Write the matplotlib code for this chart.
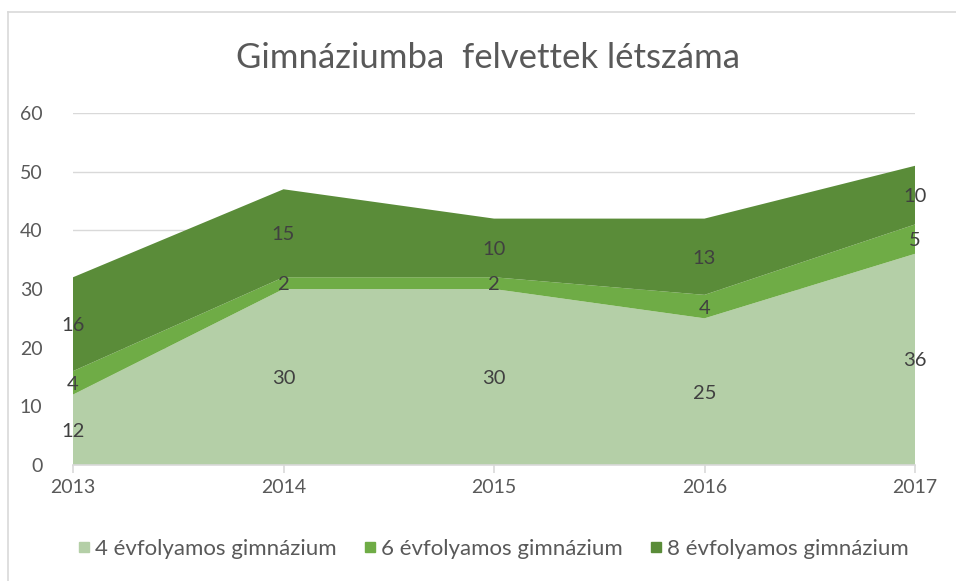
import numpy as np
import matplotlib.pyplot as plt
from matplotlib.lines import Line2D

# Adatok
evek = ["2013", "2014", "2015", "2016", "2017"]
negy_evf = [12, 30, 30, 25, 36]
hat_evf = [4, 2, 2, 4, 5]
nyolc_evf = [16, 15, 10, 13, 10]
sorozat_nevek = ["4 évfolyamos gimnázium", "6 évfolyamos gimnázium", "8 évfolyamos gimnázium"]
szinek = ["#B4CFA7", "#6FAC46", "#5A8C39"]

plt.rcParams["font.family"] = ["Lato", "DejaVu Sans"]
szoveg_szin = "#595959"

fig = plt.figure(figsize=(9.56, 5.81), dpi=100)
ax = fig.add_axes([73 / 956, 1 - 465 / 581, (915 - 73) / 956, (465 - 113) / 581])

x = np.arange(len(evek))
sorozatok = [negy_evf, hat_evf, nyolc_evf]
ax.stackplot(x, *sorozatok, colors=szinek, labels=sorozat_nevek, zorder=2)

# Adatcímkék a rétegek közepén
alap = np.zeros(len(evek))
for s in sorozatok:
    s = np.array(s)
    for xi, b, v in zip(x, alap, s):
        ax.text(xi, b + v / 2, str(v), ha="center", va="center_baseline",
                fontsize=14.5, color="#404040", zorder=3)
    alap = alap + s

ax.set_xlim(0, len(evek) - 1)
ax.set_ylim(0, 60)
ax.set_yticks(range(0, 61, 10))
ax.set_xticks(x)
ax.set_xticklabels(evek)
ax.grid(axis="y", color="#D9D9D9", lw=1, zorder=0)
ax.set_axisbelow(True)
for sp in ["top", "right", "left"]:
    ax.spines[sp].set_visible(False)
ax.spines["bottom"].set_color("#D9D9D9")
ax.spines["bottom"].set_linewidth(1.2)
ax.tick_params(axis="y", length=0, pad=22, labelsize=14, labelcolor=szoveg_szin)
ax.tick_params(axis="x", length=6, color="#D9D9D9", width=1.2, pad=4,
               labelsize=14, labelcolor=szoveg_szin)

fig.text(488 / 956, 1 - 58 / 581, "Gimnáziumba  felvettek létszáma",
         ha="center", va="center", fontsize=25, color=szoveg_szin)

kezelok = [Line2D([], [], marker="s", ls="", markersize=7, color=c) for c in szinek]
fig.legend(kezelok, sorozat_nevek, loc="center", bbox_to_anchor=(492 / 956, 1 - 549 / 581),
           ncol=3, frameon=False, fontsize=16, labelcolor=szoveg_szin,
           handletextpad=0.1, columnspacing=1.1, handlelength=0.8)

# Keret bal és felső oldal
fig.add_artist(Line2D([8 / 956, 8 / 956], [0, 1 - 12 / 581], color="#D9D9D9", lw=1.2))
fig.add_artist(Line2D([8 / 956, 1], [1 - 12 / 581, 1 - 12 / 581], color="#D9D9D9", lw=1.2))

fig.savefig("out.png", dpi=100)
